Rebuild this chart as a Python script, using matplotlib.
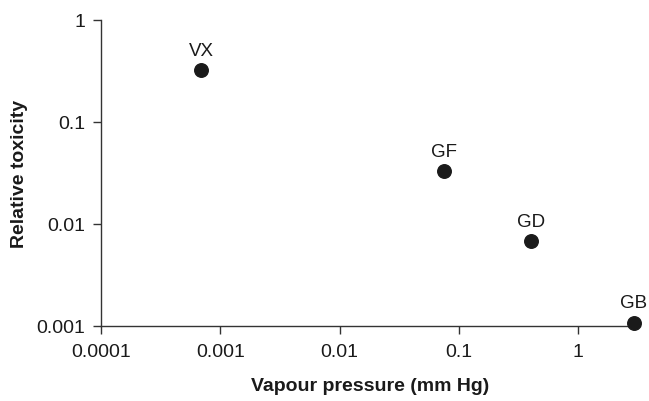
import matplotlib
matplotlib.use("Agg")
import matplotlib.pyplot as plt
from matplotlib.ticker import FixedLocator, NullLocator, FixedFormatter

agents = ["VX", "GF", "GD", "GB"]
vapour_pressure = [0.00069, 0.075, 0.40, 2.94]
relative_toxicity = [0.32, 0.033, 0.0067, 0.00107]

x_ticks = [0.0001, 0.001, 0.01, 0.1, 1]
x_tick_labels = ["0.0001", "0.001", "0.01", "0.1", "1"]
y_ticks = [0.001, 0.01, 0.1, 1]
y_tick_labels = ["0.001", "0.01", "0.1", "1"]

plt.rcParams['font.family'] = ['Liberation Sans', 'DejaVu Sans']

fig = plt.figure(figsize=(6.49, 4.02), dpi=100)
ax = fig.add_axes([0.1556, 0.1878, 0.986 - 0.1556, 0.9485 - 0.1878])

ax.scatter(vapour_pressure, relative_toxicity, s=95, color="#1a1a1a", zorder=3, clip_on=False)
for name, x, y in zip(agents, vapour_pressure, relative_toxicity):
    ax.annotate(name, (x, y), xytext=(0, 8), textcoords="offset points",
                ha="center", va="bottom", fontsize=13.5, color="#1a1a1a")

ax.set_xscale("log")
ax.set_yscale("log")
ax.set_xlim(0.0001, 3.3)
ax.set_ylim(0.001, 1)

ax.xaxis.set_major_locator(FixedLocator(x_ticks))
ax.xaxis.set_major_formatter(FixedFormatter(x_tick_labels))
ax.xaxis.set_minor_locator(NullLocator())
ax.yaxis.set_major_locator(FixedLocator(y_ticks))
ax.yaxis.set_major_formatter(FixedFormatter(y_tick_labels))
ax.yaxis.set_minor_locator(NullLocator())

for s in ["top", "right"]:
    ax.spines[s].set_visible(False)
for s in ["left", "bottom"]:
    ax.spines[s].set_color("#333333")
    ax.spines[s].set_linewidth(1.0)

ax.tick_params(axis="both", direction="out", length=5.5, width=1.0, color="#333333",
               labelsize=14, labelcolor="#1a1a1a")
ax.tick_params(axis="x", pad=7)
ax.tick_params(axis="y", pad=6)

ax.set_xlabel("Vapour pressure (mm Hg)", fontsize=14, fontweight="bold", labelpad=12, color="#1a1a1a")
ax.set_ylabel("Relative toxicity", fontsize=14, fontweight="bold", labelpad=6, color="#1a1a1a")

fig.savefig("out.png", dpi=100)
